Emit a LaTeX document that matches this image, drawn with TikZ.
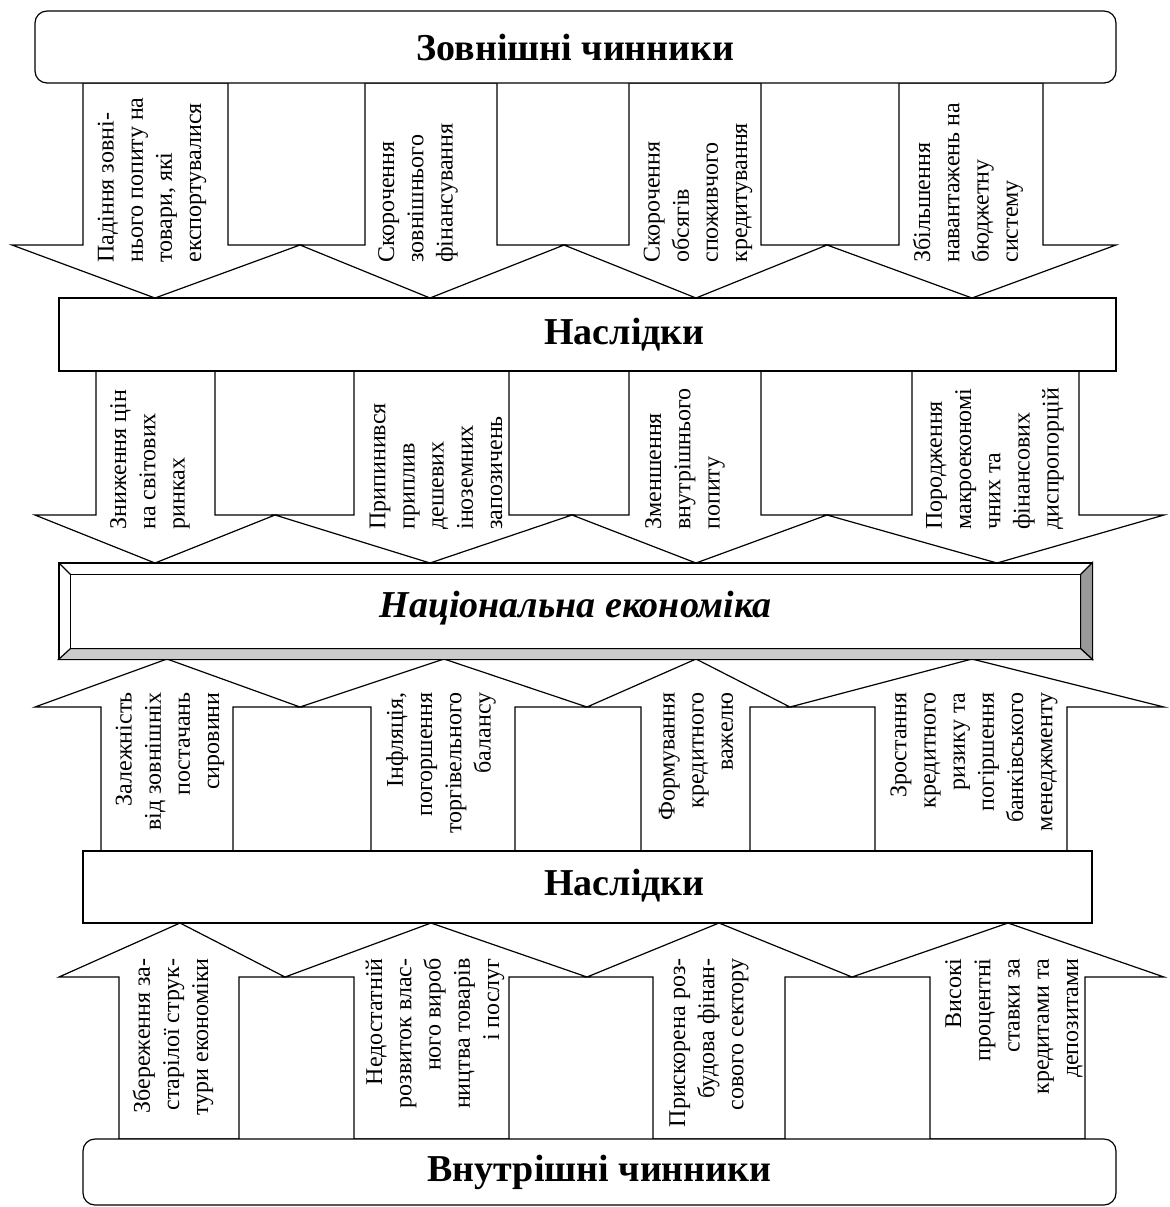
\documentclass[tikz,border=0pt]{standalone}
\usepackage{fontspec}
\setmainfont{Liberation Serif}
\usepackage{xcolor}
\definecolor{bevdark}{gray}{0.6}
\definecolor{bevlight}{gray}{0.8}
\usepackage{tikz}
\usetikzlibrary{positioning}

\tikzset{
  blockarrow/.style={draw,fill=white,line width=0.6pt,line join=miter},
  plainbox/.style={draw,fill=white,line width=0.6pt,inner sep=0pt},
  roundbox/.style={plainbox,rounded corners=6pt},
  headtext/.style={inner sep=0pt,font=\fontsize{19}{22}\selectfont\bfseries},
  bottext/.style={rotate=90,anchor=west,align=left,inner sep=0pt,font=\fontsize{12}{14.6}\selectfont},
  toptext/.style={rotate=90,anchor=east,align=right,inner sep=0pt,font=\fontsize{12}{14.6}\selectfont},
}

% shaft left, shaft right, head left, head right, tip, base y, shoulder y, tip y
\newcommand{\blockarr}[8]{%
  \draw[blockarrow] (#1,#6) -- (#1,#7) -- (#3,#7) -- (#5,#8) -- (#4,#7) -- (#2,#7) -- (#2,#6) -- cycle;}

\begin{document}
\begin{tikzpicture}[x=0.5pt,y=-0.5pt]
\useasboundingbox (0,0) rectangle (1170,1207);

% arrows
\foreach \sl/\sr/\hl/\hr/\tx in {83/228/12/300/155,365/497/300/564/430,629/761/564/827/696,899/1043/827/1116/972}
  \blockarr{\sl}{\sr}{\hl}{\hr}{\tx}{83}{245}{298};
\foreach \sl/\sr/\hl/\hr/\tx in {96/215/35/275/155,354/509/275/572/430,629/761/572/827/696,912/1079/827/1164/997}
  \blockarr{\sl}{\sr}{\hl}{\hr}{\tx}{371}{515}{563};
\foreach \sl/\sr/\hl/\hr/\tx in {101/233/35/300/167,371/515/300/587/444,641/750/587/790/696,875/1067/790/1164/972}
  \blockarr{\sl}{\sr}{\hl}{\hr}{\tx}{851}{707}{659};
\foreach \sl/\sr/\hl/\hr/\tx in {119/239/59/285/180,354/509/285/587/431,653/785/587/852/719,930/1085/852/1164/1008}
  \blockarr{\sl}{\sr}{\hl}{\hr}{\tx}{1139}{977}{923};

% boxes
\node[roundbox,headtext,minimum width=540.5pt,minimum height=36pt] (ext) at (575.5,47) {Зовнішні чинники};
\node[plainbox,minimum width=528.5pt,minimum height=36.5pt] (cons1) at (587.5,334.5) {};
\node[headtext] (cons1t) at (624.5,334.5) {Наслідки};

\node[plainbox,minimum width=516.5pt,minimum height=48pt] (econ) at (575.5,611) {};
\draw[line width=0.6pt] ([shift={(12,12)}]econ.north west) rectangle ([shift={(-12,-11)}]econ.south east);
\filldraw[fill=bevdark,line width=0.6pt] (econ.north east) -- ([shift={(-12,12)}]econ.north east) -- ([shift={(-12,-11)}]econ.south east) -- (econ.south east) -- cycle;
\filldraw[fill=bevlight,line width=0.6pt] (econ.south west) -- ([shift={(12,-11)}]econ.south west) -- ([shift={(-12,-11)}]econ.south east) -- (econ.south east) -- cycle;
\draw[line width=0.6pt] (econ.north west) -- ([shift={(12,12)}]econ.north west);
\node[headtext,font=\fontsize{19}{22}\selectfont\bfseries\itshape] (econt) at (575.5,608) {Національна економіка};

\node[plainbox,minimum width=504.5pt,minimum height=36pt] (cons2) at (587.5,887) {};
\node[headtext] (cons2t) at (624.5,886) {Наслідки};
\node[roundbox,headtext,minimum width=516.5pt,minimum height=33pt] (int) at (599.5,1172) {Внутрішні чинники};

% labels
\node[bottext] (ext1) at (152,263) {Падіння зовні-\\нього попиту на\\товари, які\\експортувалися};
\node[bottext] (ext2) at (418,263) {Скорочення\\зовнішнього\\фінансування};
\node[bottext] (ext3) at (698,263) {Скорочення\\обсягів\\споживчого\\кредитування};
\node[bottext] (ext4) at (968,263) {Збільшення\\навантажень на\\бюджетну\\систему};

\node[bottext] (res1) at (150,530) {Зниження цін\\на світових\\ринках};
\node[bottext] (res2) at (436,530) {Припинився\\приплив\\дешевих\\іноземних\\запозичень};
\node[bottext] (res3) at (685,530) {Зменшення\\внутрішнього\\попиту};
\node[bottext] (res4) at (995,530) {Породження\\макроекономі\\чних та\\фінансових\\диспропорцій};

\node[toptext] (dep1) at (170,692) {Залежність\\від зовнішніх\\постачань\\сировини};
\node[toptext] (dep2) at (441,692) {Інфляція,\\погоршення\\торгівельного\\балансу};
\node[toptext] (dep3) at (696,692) {Формування\\кредитного\\важелю};
\node[toptext] (dep4) at (974,692) {Зростання\\кредитного\\ризику та\\погіршення\\банківського\\менеджменту};

\node[toptext] (int1) at (173,958) {Збереження за-\\старілої струк-\\тури економіки};
\node[toptext] (int2) at (435,958) {Недостатній\\розвиток влас-\\ного вироб\\ництва товарів\\і послуг};
\node[toptext] (int3) at (709,958) {Прискорена роз-\\будова фінан-\\сового сектору};
\node[toptext] (int4) at (1014,958) {Високі\\процентні\\ставки за\\кредитами та\\депозитами};
\end{tikzpicture}
\end{document}
